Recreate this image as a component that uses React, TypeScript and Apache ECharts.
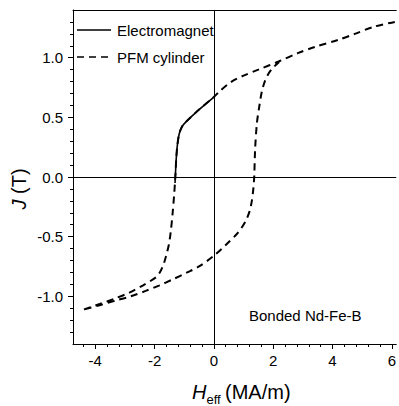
import React, { useEffect, useRef } from "react";
import * as echarts from "echarts";

// ---- Data ----
const pfmUpperX = [6.1, 5.4, 4.75, 4.2, 3.4, 2.85, 2.2, 1.5, 1.0, 0.6, 0.2, 0, -0.5, -0.95, -1.08, -1.17, -1.23, -1.27, -1.3, -1.34, -1.39, -1.45, -1.52, -1.6, -1.68, -1.8, -1.95, -2.4, -2.85, -3.35, -3.85, -4.45];
const pfmUpperY = [1.3, 1.26, 1.2, 1.15, 1.09, 1.04, 0.97, 0.9, 0.85, 0.8, 0.72, 0.67, 0.565, 0.46, 0.42, 0.36, 0.27, 0.15, 0.0, -0.15, -0.3, -0.45, -0.57, -0.65, -0.72, -0.79, -0.84, -0.91, -0.97, -1.02, -1.065, -1.115];
const pfmLowerX = [-4.45, -3.85, -3.3, -2.8, -2.3, -1.85, -1.4, -0.9, -0.5, 0, 0.4, 0.8, 1.05, 1.2, 1.28, 1.33, 1.36, 1.39, 1.45, 1.53, 1.62, 1.73, 1.85, 1.97, 2.2];
const pfmLowerY = [-1.115, -1.075, -1.035, -1.0, -0.955, -0.91, -0.86, -0.8, -0.75, -0.66, -0.57, -0.47, -0.38, -0.29, -0.2, -0.1, 0.0, 0.23, 0.45, 0.59, 0.72, 0.81, 0.87, 0.91, 0.965];
const emX = [-1.31, -1.3, -1.27, -1.23, -1.17, -1.08, -0.95, -0.5, 0, 0.03];
const emY = [-0.05, 0.0, 0.15, 0.27, 0.36, 0.42, 0.46, 0.565, 0.67, 0.675];

const xMajorTicks = [-4, -2, 0, 2, 4, 6];
const xMinorTicks = [-4.4, -4, -3.6, -3.2, -2.8, -2.4, -2, -1.6, -1.2, -0.8, -0.4, 0, 0.4, 0.8, 1.2, 1.6, 2, 2.4, 2.8, 3.2, 3.6, 4, 4.4, 4.8, 5.2, 5.6, 6];
const yMajorTicks = [-1, -0.5, 0, 0.5, 1];
const yMinorTicks = [-1.3, -1.2, -1.1, -1, -0.9, -0.8, -0.7, -0.6, -0.5, -0.4, -0.3, -0.2, -0.1, 0, 0.1, 0.2, 0.3, 0.4, 0.5, 0.6, 0.7, 0.8, 0.9, 1, 1.1, 1.2, 1.3];

const seriesNames = ["Electromagnet", "PFM cylinder"];

const FONT = "'Liberation Sans', Arial, sans-serif";

function zip(xs: number[], ys: number[]) {
  return xs.map((x, i) => [x, ys[i]]);
}

export default function App() {
  const ref = useRef<HTMLDivElement>(null);
  useEffect(() => {
    if (!ref.current) return;
    const chart = echarts.init(ref.current, undefined, { renderer: "svg" });
    const X_MIN = -4.75, X_MAX = 6.15, Y_MIN = -1.4, Y_MAX = 1.4;
    const baseAxis = {
      type: "value" as const,
      splitLine: { show: false },
    };
    const legendText = (text: string, y: number) => ({
      type: "text",
      x: 117,
      y,
      style: {
        text,
        fontSize: 15,
        fontFamily: FONT,
        fill: "#000",
        align: "left",
        verticalAlign: "middle",
      },
    });
    chart.setOption({
      animation: false,
      backgroundColor: "#fff",
      grid: { left: 73, right: 0, top: 10, bottom: 62, containLabel: false },
      xAxis: [
        {
          ...baseAxis,
          min: X_MIN,
          max: X_MAX,
          position: "bottom",
          axisLine: { show: true, onZero: false, lineStyle: { color: "#000", width: 1 } },
          axisTick: { show: true, customValues: xMajorTicks, length: 5, lineStyle: { color: "#000" } },
          axisLabel: {
            show: true,
            customValues: xMajorTicks,
            margin: 9,
            fontSize: 15,
            color: "#000",
            fontFamily: FONT,
            formatter: (v: number) => String(v),
          },
        },
        {
          ...baseAxis,
          min: X_MIN,
          max: X_MAX,
          position: "bottom",
          axisLine: { show: false, onZero: false },
          axisTick: { show: true, customValues: xMinorTicks, length: 3, lineStyle: { color: "#000" } },
          axisLabel: { show: false },
        },
        {
          ...baseAxis,
          min: X_MIN,
          max: X_MAX,
          position: "top",
          axisLine: { show: true, onZero: false, lineStyle: { color: "#000", width: 1 } },
          axisTick: { show: false },
          axisLabel: { show: false },
        },
      ],
      yAxis: [
        {
          ...baseAxis,
          min: Y_MIN,
          max: Y_MAX,
          position: "left",
          axisLine: { show: true, onZero: false, lineStyle: { color: "#000", width: 1 } },
          axisTick: { show: true, customValues: yMajorTicks, length: 5, lineStyle: { color: "#000" } },
          axisLabel: {
            show: true,
            customValues: yMajorTicks,
            margin: 10,
            fontSize: 15,
            color: "#000",
            fontFamily: FONT,
            formatter: (v: number) => v.toFixed(1),
          },
        },
        {
          ...baseAxis,
          min: Y_MIN,
          max: Y_MAX,
          position: "left",
          axisLine: { show: false, onZero: false },
          axisTick: { show: true, customValues: yMinorTicks, length: 3, lineStyle: { color: "#000" } },
          axisLabel: { show: false },
        },
      ],
      series: [
        {
          name: seriesNames[1],
          type: "line",
          xAxisIndex: 0,
          yAxisIndex: 0,
          data: [...zip(pfmUpperX, pfmUpperY), ...zip(pfmLowerX, pfmLowerY)],
          symbol: "none",
          showSymbol: false,
          smooth: 0.3,
          lineStyle: { color: "#000", width: 2, type: [7, 5] },
          itemStyle: { color: "#000" },
          z: 3,
          markLine: {
            silent: true,
            symbol: ["none", "none"],
            label: { show: false },
            lineStyle: { color: "#000", width: 1, type: "solid" },
            data: [{ xAxis: 0 }, { yAxis: 0 }],
          },
        },
        {
          name: seriesNames[0],
          type: "line",
          xAxisIndex: 0,
          yAxisIndex: 0,
          data: zip(emX, emY),
          symbol: "none",
          showSymbol: false,
          smooth: 0.3,
          lineStyle: { color: "#000", width: 1.6, type: "solid" },
          itemStyle: { color: "#000" },
          z: 4,
        },
      ],
      graphic: [
        {
          type: "line",
          shape: { x1: 77, y1: 30, x2: 111, y2: 30 },
          style: { stroke: "#000", lineWidth: 1.6 },
        },
        {
          type: "line",
          shape: { x1: 77, y1: 57, x2: 111, y2: 57 },
          style: { stroke: "#000", lineWidth: 1.6, lineDash: [7, 5] },
        },
        legendText(seriesNames[0], 30),
        legendText(seriesNames[1], 57),
        {
          type: "text",
          x: 19,
          y: 189,
          rotation: Math.PI / 2,
          style: {
            text: "{i|J} (T)",
            fontSize: 20,
            fontFamily: FONT,
            fill: "#000",
            align: "center",
            verticalAlign: "middle",
            rich: {
              i: { fontSize: 20, fontStyle: "italic", fontFamily: FONT, fill: "#000" },
            },
          },
        },
        {
          type: "text",
          x: 192,
          y: 392,
          style: {
            text: "H",
            fontSize: 20,
            fontStyle: "italic",
            fontFamily: FONT,
            fill: "#000",
            align: "left",
            verticalAlign: "middle",
          },
        },
        {
          type: "text",
          x: 206.5,
          y: 399,
          style: {
            text: "eff",
            fontSize: 13,
            fontFamily: FONT,
            fill: "#000",
            align: "left",
            verticalAlign: "middle",
          },
        },
        {
          type: "text",
          x: 225,
          y: 392,
          style: {
            text: "(MA/m)",
            fontSize: 20,
            fontFamily: FONT,
            fill: "#000",
            align: "left",
            verticalAlign: "middle",
          },
        },
        {
          type: "text",
          x: 249,
          y: 315,
          style: {
            text: "Bonded Nd-Fe-B",
            fontSize: 15,
            fontFamily: FONT,
            fill: "#000",
            align: "left",
            verticalAlign: "middle",
          },
        },
      ],
    });
    return () => chart.dispose();
  }, []);
  return (
    <div
      ref={ref}
      style={{ position: "fixed", left: 0, top: 0, width: 399, height: 406 }}
    />
  );
}
